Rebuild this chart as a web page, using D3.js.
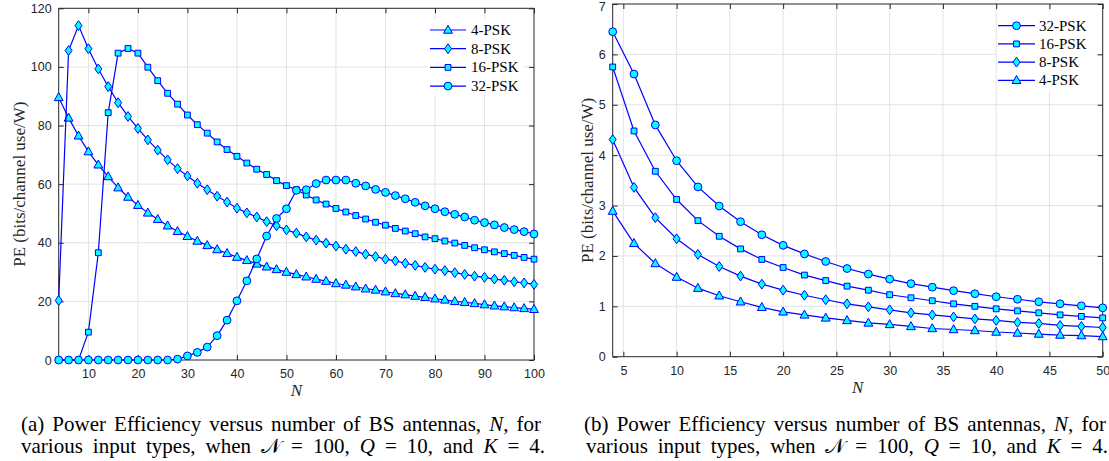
<!DOCTYPE html>
<html><head><meta charset="utf-8">
<script src="https://cdn.jsdelivr.net/npm/d3@7"></script>
<style>body{margin:0;background:#fff;} svg{display:block}</style>
</head><body>
<svg id="c" width="1109" height="461"></svg>
<script>
// ---------- DATA ----------
const nLeft = [4,6,8,10,12,14,16,18,20,22,24,26,28,30,32,34,36,38,40,42,44,46,48,50,52,54,56,58,60,62,64,66,68,70,72,74,76,78,80,82,84,86,88,90,92,94,96,98,100];
const leftPsk4  = [89.6,82.6,76.5,71.1,66.6,62.6,58.8,55.6,52.8,50.2,48.0,45.8,43.9,42.2,40.6,39.1,37.7,36.4,35.1,34.0,32.8,31.8,30.9,30.0,29.2,28.4,27.6,26.9,26.1,25.6,25.0,24.3,23.9,23.3,22.7,22.3,21.8,21.4,20.9,20.5,20.0,19.7,19.3,18.9,18.5,18.2,17.9,17.6,17.3];
const leftPsk8  = [20.3,105.6,114.1,106.2,99.3,93.3,87.8,83.1,79.0,75.1,71.6,68.3,65.3,62.8,60.3,58.1,55.9,53.9,51.8,50.2,48.8,47.2,45.8,44.4,43.3,42.0,40.9,39.9,38.9,37.8,37.0,36.1,35.3,34.4,33.8,33.0,32.3,31.6,31.0,30.5,29.8,29.2,28.6,28.2,27.6,27.2,26.7,26.3,25.8];
const leftPsk16 = [0,0,0,9.5,36.6,84.4,104.7,106.3,104.7,99.9,95.3,91.0,87.3,83.6,80.3,77.4,74.4,71.8,69.5,67.2,65.1,63.3,61.2,59.5,58.1,56.3,54.6,53.2,51.7,50.5,49.3,48.1,47.0,46.0,44.9,44.0,43.1,42.0,41.4,40.6,39.9,39.1,38.3,37.6,36.9,36.3,35.7,35.0,34.4];
const leftPsk32 = [0,0,0,0,0,0,0,0,0,0,0,0,0.3,1.4,2.6,4.4,8.3,13.6,20.2,27.0,34.5,42.3,48.3,51.6,57.9,58.1,60.2,61.4,61.4,61.4,60.3,59.4,58.2,57.2,56.1,55.0,53.8,52.6,51.6,50.6,49.7,48.8,47.7,46.9,46.1,45.2,44.5,43.8,43.0];

const nRight = [4,6,8,10,12,14,16,18,20,22,24,26,28,30,32,34,36,38,40,42,44,46,48,50];
const rightPsk32 = [6.45,5.61,4.60,3.89,3.37,2.99,2.68,2.42,2.21,2.04,1.89,1.75,1.64,1.54,1.45,1.38,1.31,1.25,1.19,1.14,1.09,1.05,1.01,0.97];
const rightPsk16 = [5.75,4.48,3.68,3.12,2.70,2.39,2.14,1.93,1.77,1.62,1.51,1.40,1.32,1.23,1.17,1.11,1.05,1.00,0.95,0.91,0.87,0.83,0.80,0.77];
const rightPsk8  = [4.31,3.36,2.76,2.34,2.03,1.79,1.60,1.44,1.32,1.22,1.13,1.05,0.99,0.93,0.87,0.83,0.79,0.75,0.72,0.68,0.66,0.62,0.60,0.58];
const rightPsk4  = [2.89,2.25,1.85,1.58,1.36,1.21,1.09,0.98,0.89,0.83,0.77,0.72,0.67,0.64,0.60,0.56,0.54,0.52,0.49,0.47,0.45,0.43,0.42,0.40];

const leftXTicks  = [10,20,30,40,50,60,70,80,90,100];
const leftYTicks  = [0,20,40,60,80,100,120];
const rightXTicks = [5,10,15,20,25,30,35,40,45,50];
const rightYTicks = [0,1,2,3,4,5,6,7];

const leftLabels  = ["4-PSK","8-PSK","16-PSK","32-PSK"];
const rightLabels = ["32-PSK","16-PSK","8-PSK","4-PSK"];
const yLabel = "PE (bits/channel use/W)";
const xLabel = "N";

// ---------- DRAW ----------
const svg = d3.select("#c");
const BLUE = "#0000ff", CYAN = "#00ffff", AX = "#262626", GRID = "#e3e3e3";
const SERIF = "'Liberation Serif','Times New Roman',Times,serif";
const SANS = "'Liberation Sans',Arial,Helvetica,sans-serif";

const markerPath = {
  tri: "M0,-4.8L4.4,3.2L-4.4,3.2Z",
  dia: "M0,-4.9L3.5,0L0,4.9L-3.5,0Z",
  sq:  "M-2.9,-2.9H2.9V2.9H-2.9Z",
  circ: d3.symbol().type(d3.symbolCircle).size(Math.PI*3.9*3.9)()
};

function panel(cfg){
  const g = svg.append("g");
  const x = d3.scaleLinear().domain(cfg.xDomain).range([cfg.left, cfg.right]);
  const y = d3.scaleLinear().domain(cfg.yDomain).range([cfg.bottom, cfg.top]);
  // grid
  g.append("g").selectAll("line").data(cfg.xTicks.filter(t=>t>cfg.xDomain[0] && t<cfg.xDomain[1])).join("line")
    .attr("x1",d=>x(d)).attr("x2",d=>x(d)).attr("y1",cfg.top).attr("y2",cfg.bottom)
    .attr("stroke",GRID).attr("stroke-width",1);
  g.append("g").selectAll("line").data(cfg.yTicks.filter(t=>t>cfg.yDomain[0] && t<cfg.yDomain[1])).join("line")
    .attr("y1",d=>y(d)).attr("y2",d=>y(d)).attr("x1",cfg.left).attr("x2",cfg.right)
    .attr("stroke",GRID).attr("stroke-width",1);
  // axes with inward ticks
  const tl = 5, fmt = d3.format("d");
  const axB = d3.axisBottom(x).tickValues(cfg.xTicks).tickFormat(fmt).tickSizeInner(-tl).tickSizeOuter(0).tickPadding(9);
  const axT = d3.axisTop(x).tickValues(cfg.xTicks).tickSizeInner(-tl).tickSizeOuter(0).tickFormat("");
  const axL = d3.axisLeft(y).tickValues(cfg.yTicks).tickFormat(fmt).tickSizeInner(-tl).tickSizeOuter(0).tickPadding(7);
  const axR = d3.axisRight(y).tickValues(cfg.yTicks).tickSizeInner(-tl).tickSizeOuter(0).tickFormat("");
  const sty = sel => { sel.selectAll("path").remove(); sel.selectAll("line").attr("stroke",AX);
    sel.selectAll("text").attr("fill",AX).attr("font-family",SANS).attr("font-size","12.5px"); };
  g.append("g").attr("transform",`translate(0,${cfg.bottom})`).call(axB).call(sty);
  g.append("g").attr("transform",`translate(0,${cfg.top})`).call(axT).call(sty);
  const gl = g.append("g").attr("transform",`translate(${cfg.left},0)`).call(axL).call(sty);
  // keep the top label inside the picture
  gl.selectAll(".tick text").attr("dy", d => (y(d) < 7 ? "0.55em" : "0.32em"));
  g.append("g").attr("transform",`translate(${cfg.right},0)`).call(axR).call(sty);
  g.append("rect").attr("x",cfg.left).attr("y",cfg.top).attr("width",cfg.right-cfg.left).attr("height",cfg.bottom-cfg.top)
    .attr("fill","none").attr("stroke",AX).attr("stroke-width",1);
  // series
  const line = d3.line().x(d=>x(d[0])).y(d=>y(d[1]));
  cfg.series.forEach(s=>{
    const pts = cfg.xs.map((n,i)=>[n,s.values[i]]);
    g.append("path").datum(pts).attr("d",line).attr("fill","none").attr("stroke",BLUE).attr("stroke-width",1.2);
    g.append("g").selectAll("path").data(pts).join("path")
      .attr("d",markerPath[s.marker]).attr("transform",d=>`translate(${x(d[0])},${y(d[1])})`)
      .attr("fill",CYAN).attr("stroke",BLUE).attr("stroke-width",1);
  });
  // legend
  const L = cfg.legend;
  g.append("rect").attr("x",L.bx).attr("y",L.by).attr("width",L.bw).attr("height",L.bh).attr("fill","#fff");
  cfg.series.forEach((s,i)=>{
    const cy = L.y0 + i*L.dy;
    g.append("line").attr("x1",L.x1).attr("x2",L.x2).attr("y1",cy).attr("y2",cy).attr("stroke",BLUE).attr("stroke-width",1.2);
    g.append("path").attr("d",markerPath[s.marker]).attr("transform",`translate(${(L.x1+L.x2)/2},${cy})`)
      .attr("fill",CYAN).attr("stroke",BLUE).attr("stroke-width",1);
    g.append("text").attr("x",L.tx).attr("y",cy+5).text(s.label)
      .attr("font-family",SERIF).attr("font-size","15px").attr("fill","#000");
  });
  // axis labels
  g.append("text").attr("transform",`translate(${cfg.ylabX},${(cfg.top+cfg.bottom)/2}) rotate(-90)`)
    .attr("text-anchor","middle").text(yLabel)
    .attr("font-family",SERIF).attr("font-size","17px").attr("fill","#262626");
  g.append("text").attr("x",(cfg.left+cfg.right)/2).attr("y",cfg.xlabY).attr("text-anchor","middle").text(xLabel)
    .attr("font-family",SERIF).attr("font-size","17px").attr("font-style","italic").attr("fill","#262626");
}

panel({
  xDomain:[4,100], yDomain:[0,120], left:58.7, right:534, top:8.3, bottom:360,
  xTicks:leftXTicks, yTicks:leftYTicks, xs:nLeft,
  series:[
    {label:leftLabels[0], values:leftPsk4, marker:"tri"},
    {label:leftLabels[1], values:leftPsk8, marker:"dia"},
    {label:leftLabels[2], values:leftPsk16, marker:"sq"},
    {label:leftLabels[3], values:leftPsk32, marker:"circ"}],
  legend:{bx:427,by:19,bw:96,bh:76,x1:430,x2:466,y0:30,dy:18.7,tx:471},
  ylabX:25, xlabY:396
});
panel({
  xDomain:[4,50], yDomain:[0,7], left:612.7, right:1102.7, top:4, bottom:356.7,
  xTicks:rightXTicks, yTicks:rightYTicks, xs:nRight,
  series:[
    {label:rightLabels[0], values:rightPsk32, marker:"circ"},
    {label:rightLabels[1], values:rightPsk16, marker:"sq"},
    {label:rightLabels[2], values:rightPsk8, marker:"dia"},
    {label:rightLabels[3], values:rightPsk4, marker:"tri"}],
  legend:{bx:997,by:12,bw:98,bh:79,x1:998,x2:1035,y0:25.7,dy:18.2,tx:1039},
  ylabX:593, xlabY:393
});

// ---------- CAPTIONS ----------
function caption(x0, x1, yb, parts){
  const t = svg.append("text").attr("x",x0).attr("y",yb)
    .attr("font-family",SERIF).attr("font-size","21px").attr("fill","#000");
  parts.forEach(p=>{ const ts = t.append("tspan").text(p[0]); if(p[1]) ts.attr("font-style","italic"); });
  const nat = t.node().getComputedTextLength();
  const spaces = parts.map(p=>p[0]).join("").split(" ").length-1;
  t.style("word-spacing", ((x1-x0)-nat)/spaces + "px");
}
const capLine1 = (tag)=>[[`(${tag}) Power Efficiency versus number of BS antennas, `],["N",1],[", for"]];
const capLine2 = [["various input types, when "],["\u{1D4A9}"],[" = 100, "],["Q",1],[" = 10, and "],["K",1],[" = 4."]];
caption(21, 541, 431, capLine1("a"));
caption(21, 545, 453, capLine2);
caption(584, 1106, 431, capLine1("b"));
caption(586, 1108, 453, capLine2);
</script>
</body></html>
